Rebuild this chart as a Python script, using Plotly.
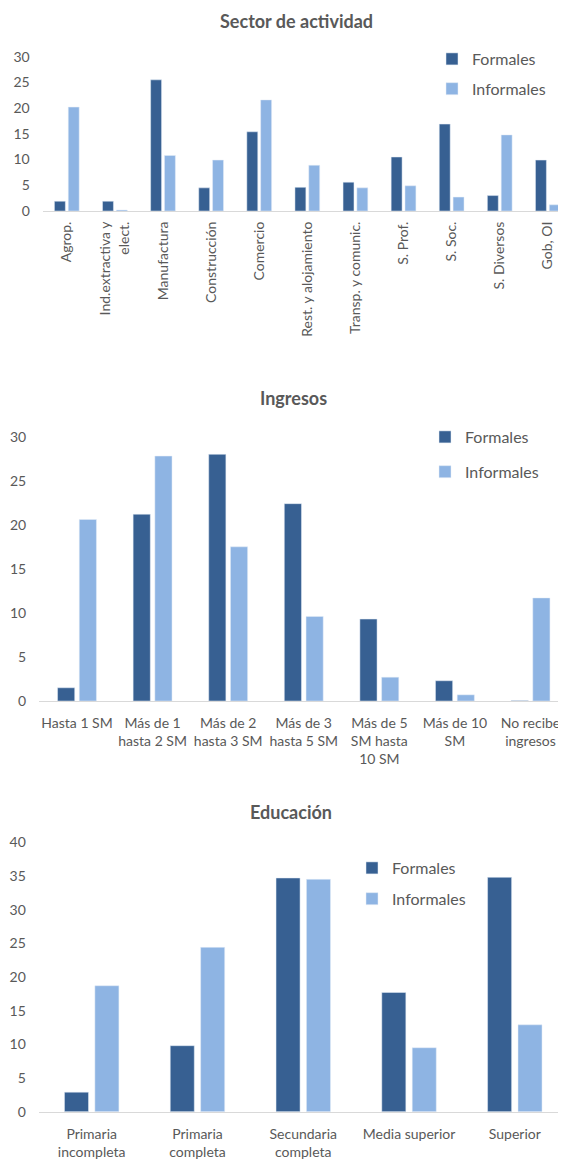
import plotly.graph_objects as go

# ---- Data ----
sector_cats = ["Agrop.", "Ind.extractiva y<br>elect.", "Manufactura", "Construcción", "Comercio",
               "Rest. y alojamiento", "Transp. y comunic.", "S. Prof.", "S. Soc.", "S. Diversos", "Gob, OI"]
sector_formales = [1.9, 1.9, 25.5, 4.5, 15.4, 4.6, 5.6, 10.5, 16.9, 3.0, 9.9]
sector_informales = [20.2, 0.2, 10.8, 9.9, 21.6, 8.9, 4.5, 4.9, 2.7, 14.8, 1.2]

ingresos_cats = ["Hasta 1 SM", "Más de 1<br>hasta 2 SM", "Más de 2<br>hasta 3 SM", "Más de 3<br>hasta 5 SM",
                 "Más de 5<br>SM hasta<br>10 SM", "Más de 10<br>SM", "No recibe<br>ingresos"]
ingresos_formales = [1.5, 21.2, 28.0, 22.4, 9.3, 2.3, 0.05]
ingresos_informales = [20.6, 27.8, 17.5, 9.6, 2.7, 0.7, 11.7]

educ_cats = ["Primaria<br>incompleta", "Primaria<br>completa", "Secundaria<br>completa", "Media superior", "Superior"]
educ_formales = [2.9, 9.8, 34.7, 17.7, 34.8]
educ_informales = [18.7, 24.4, 34.5, 9.5, 12.9]

sector_ticks = [0, 5, 10, 15, 20, 25, 30]
ingresos_ticks = [0, 5, 10, 15, 20, 25, 30]
educ_ticks = [0, 5, 10, 15, 20, 25, 30, 35, 40]

# ---- Style ----
DARK = "#376092"
LIGHT = "#8EB4E3"
TEXT = "#595959"
FONT = "Lato"
H = 1161
W = 566
OFF = 8  # page body margin


def px_x(p):  # page x pixel -> paper fraction
    return (p - OFF) / W


def px_y(p):  # page y pixel -> paper fraction
    return 1 - (p - OFF) / H


fig = go.Figure()

panels = [
    (sector_cats, sector_formales, sector_informales, "x", "y", "legend"),
    (ingresos_cats, ingresos_formales, ingresos_informales, "x2", "y2", "legend2"),
    (educ_cats, educ_formales, educ_informales, "x3", "y3", "legend3"),
]
for cats, f, i, xa, ya, lg in panels:
    fig.add_trace(go.Bar(x=cats, y=f, name="Formales", marker_color=DARK, xaxis=xa, yaxis=ya,
                         legend=lg, legendgroup="f" + lg, hoverinfo="x+y"))
    fig.add_trace(go.Bar(x=cats, y=i, name="Informales", marker_color=LIGHT, xaxis=xa, yaxis=ya,
                         legend=lg, legendgroup="i" + lg, hoverinfo="x+y"))


def xaxis_cfg(left_px, right_px, ncat, anchor, angle, standoff):
    # plot area visible up to the page edge; the category band continues beyond it
    step = (right_px - left_px) / ncat
    vis_right = W + OFF
    rng_end = ncat - 0.5 - (right_px - vis_right) / step
    return dict(domain=[px_x(left_px), 1.0], range=[-0.5, rng_end], anchor=anchor, tickangle=angle,
                showline=True, linecolor="#D9D9D9", linewidth=1, showgrid=False, ticks="",
                automargin=False, ticklabelstandoff=standoff,
                tickfont=dict(family=FONT, size=14, color=TEXT), fixedrange=True)


def yaxis_cfg(top_px, bot_px, rmax, tickv, anchor):
    return dict(domain=[px_y(bot_px), px_y(top_px)], range=[0, rmax], tickvals=tickv, anchor=anchor,
                showline=False, showgrid=False, zeroline=False, ticks="", automargin=False,
                ticklabelstandoff=12, tickfont=dict(family=FONT, size=14, color=TEXT), fixedrange=True)


legfont = dict(family=FONT, size=16, color=TEXT)

fig.update_layout(
    width=W, height=H,
    margin=dict(l=0, r=0, t=0, b=0, autoexpand=False),
    paper_bgcolor="white", plot_bgcolor="white",
    barmode="group", bargap=0.425, bargroupgap=0.21,
    font=dict(family=FONT, color=TEXT),
    xaxis=xaxis_cfg(42.75, 571.9, len(sector_cats), "y", -90, 4),
    yaxis=yaxis_cfg(56.7, 211, 30, sector_ticks, "x"),
    xaxis2=xaxis_cfg(39.2, 568.3, len(ingresos_cats), "y2", 0, 9),
    yaxis2=yaxis_cfg(436.7, 701, 30, ingresos_ticks, "x2"),
    xaxis3=xaxis_cfg(38.8, 567.7, len(educ_cats), "y3", 0, 9),
    yaxis3=yaxis_cfg(842.3, 1111.7, 40, educ_ticks, "x3"),
    legend=dict(x=px_x(432), y=px_y(42), xanchor="left", yanchor="top", tracegroupgap=6,
                font=legfont, bgcolor="rgba(0,0,0,0)"),
    legend2=dict(x=px_x(425), y=px_y(420), xanchor="left", yanchor="top", tracegroupgap=11,
                 font=legfont, bgcolor="rgba(0,0,0,0)"),
    legend3=dict(x=px_x(352), y=px_y(851), xanchor="left", yanchor="top", tracegroupgap=7,
                 font=legfont, bgcolor="rgba(0,0,0,0)"),
    showlegend=True,
)

titles = [("Sector de actividad", 296, 21), ("Ingresos", 293, 398), ("Educación", 291, 812)]
for txt, xc, yc in titles:
    fig.add_annotation(text="<b>" + txt + "</b>", x=px_x(xc), y=px_y(yc), xref="paper", yref="paper",
                       xanchor="center", yanchor="middle", showarrow=False,
                       font=dict(family=FONT, size=18, color=TEXT))

fig.write_html("out.html")
